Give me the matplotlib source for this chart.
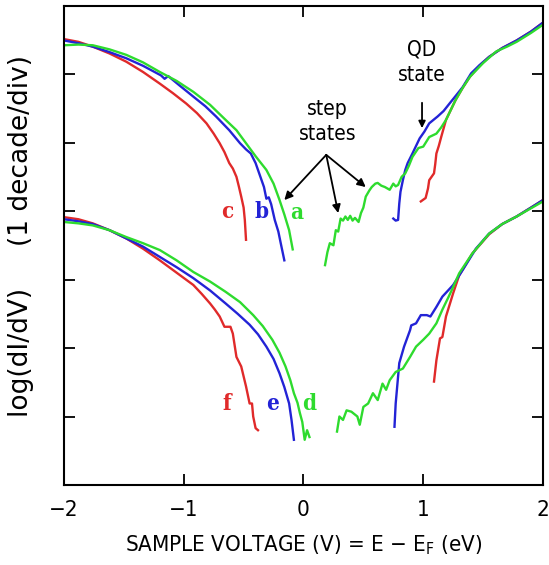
import matplotlib
matplotlib.use("Agg")
import matplotlib.pyplot as plt

# ---- data (x = sample voltage in V, y = decades) ----
# upper set: a (green), b (blue), c (red)
a_neg_x = [-2.0, -1.88, -1.76, -1.62, -1.48, -1.34, -1.20, -1.06, -0.92, -0.78, -0.65, -0.56, -0.48, -0.40, -0.31, -0.25, -0.20, -0.16, -0.12, -0.09]
a_neg_y = [6.42, 6.43, 6.42, 6.36, 6.28, 6.17, 6.03, 5.90, 5.74, 5.55, 5.33, 5.18, 4.99, 4.80, 4.60, 4.40, 4.16, 3.95, 3.72, 3.44]
a_pos_x = [0.18, 0.20, 0.22, 0.25, 0.27, 0.29, 0.31, 0.33, 0.35, 0.37, 0.39, 0.41, 0.43, 0.46, 0.48, 0.50, 0.52, 0.55, 0.57, 0.60, 0.62, 0.65, 0.68, 0.72, 0.75, 0.77, 0.79, 0.82, 0.85, 0.88, 0.91, 0.96, 1.00, 1.05, 1.11, 1.15, 1.19, 1.27, 1.33, 1.39, 1.50, 1.61, 1.70, 1.78, 1.90, 2.0]
a_pos_y = [3.21, 3.40, 3.53, 3.50, 3.72, 3.70, 3.89, 3.86, 3.92, 3.87, 3.93, 3.86, 3.90, 3.84, 3.97, 4.05, 4.21, 4.30, 4.35, 4.40, 4.41, 4.37, 4.35, 4.31, 4.40, 4.36, 4.38, 4.50, 4.55, 4.66, 4.79, 4.92, 4.94, 5.08, 5.13, 5.22, 5.33, 5.62, 5.80, 5.96, 6.16, 6.33, 6.40, 6.47, 6.60, 6.72]

b_neg_x = [-2.0, -1.88, -1.76, -1.62, -1.48, -1.34, -1.19, -1.16, -1.13, -1.04, -0.92, -0.82, -0.73, -0.62, -0.53, -0.48, -0.44, -0.40, -0.37, -0.33, -0.31, -0.29, -0.27, -0.24, -0.21, -0.19, -0.16]
b_neg_y = [6.49, 6.45, 6.40, 6.32, 6.23, 6.12, 5.98, 5.93, 5.97, 5.84, 5.67, 5.53, 5.38, 5.18, 4.99, 4.90, 4.84, 4.70, 4.55, 4.35, 4.18, 4.20, 4.10, 3.87, 3.70, 3.53, 3.28]
b_pos_x = [0.75, 0.77, 0.79, 0.80, 0.81, 0.83, 0.85, 0.87, 0.91, 0.97, 1.01, 1.05, 1.12, 1.17, 1.22, 1.28, 1.33, 1.40, 1.47, 1.55, 1.66, 1.78, 1.90, 2.0]
b_pos_y = [3.89, 3.86, 3.87, 4.11, 4.28, 4.45, 4.60, 4.70, 4.84, 5.06, 5.16, 5.28, 5.38, 5.46, 5.57, 5.70, 5.81, 6.01, 6.13, 6.25, 6.38, 6.49, 6.62, 6.75]

c_neg_x = [-2.0, -1.88, -1.76, -1.62, -1.48, -1.34, -1.20, -1.09, -0.98, -0.89, -0.81, -0.75, -0.70, -0.66, -0.62, -0.59, -0.56, -0.54, -0.52, -0.50, -0.49, -0.48]
c_neg_y = [6.51, 6.47, 6.40, 6.30, 6.18, 6.03, 5.86, 5.72, 5.57, 5.43, 5.28, 5.13, 4.99, 4.86, 4.70, 4.62, 4.50, 4.36, 4.21, 4.05, 3.87, 3.58]
c_pos_x = [0.98, 1.02, 1.04, 1.05, 1.09, 1.10, 1.11, 1.13, 1.15, 1.19, 1.27, 1.33, 1.39, 1.47, 1.55, 1.66, 1.78, 1.90, 2.0]
c_pos_y = [4.14, 4.19, 4.33, 4.45, 4.55, 4.68, 4.84, 4.95, 5.08, 5.33, 5.62, 5.80, 5.96, 6.12, 6.25, 6.38, 6.49, 6.62, 6.75]

# lower set: d (green), e (blue), f (red)
d_neg_x = [-2.0, -1.88, -1.76, -1.62, -1.48, -1.34, -1.20, -1.06, -0.92, -0.78, -0.65, -0.53, -0.42, -0.34, -0.26, -0.20, -0.15, -0.11, -0.08, -0.05, -0.03, -0.01, 0.01, 0.03, 0.05]
d_neg_y = [3.84, 3.82, 3.79, 3.72, 3.62, 3.53, 3.43, 3.28, 3.11, 2.97, 2.82, 2.67, 2.48, 2.32, 2.12, 1.93, 1.73, 1.53, 1.34, 1.20, 1.05, 0.92, 0.66, 0.80, 0.70]
d_pos_x = [0.28, 0.30, 0.33, 0.36, 0.40, 0.45, 0.47, 0.50, 0.54, 0.58, 0.62, 0.66, 0.69, 0.72, 0.77, 0.83, 0.89, 0.94, 1.00, 1.05, 1.11, 1.16, 1.21, 1.25, 1.30, 1.41, 1.55, 1.66, 1.78, 1.90, 2.0]
d_pos_y = [0.78, 1.00, 0.95, 1.09, 1.07, 1.00, 0.88, 1.14, 1.19, 1.34, 1.24, 1.48, 1.39, 1.53, 1.65, 1.70, 1.87, 2.02, 2.12, 2.21, 2.36, 2.56, 2.74, 2.89, 3.09, 3.38, 3.67, 3.81, 3.92, 4.04, 4.14]

e_neg_x = [-2.0, -1.88, -1.76, -1.62, -1.48, -1.34, -1.20, -1.06, -0.92, -0.78, -0.65, -0.55, -0.45, -0.38, -0.31, -0.25, -0.20, -0.16, -0.12, -0.10, -0.08]
e_neg_y = [3.88, 3.85, 3.81, 3.72, 3.60, 3.48, 3.33, 3.18, 3.02, 2.84, 2.65, 2.50, 2.34, 2.20, 2.02, 1.84, 1.63, 1.43, 1.19, 0.95, 0.66]
e_pos_x = [0.76, 0.77, 0.80, 0.84, 0.89, 0.90, 0.94, 0.98, 1.03, 1.06, 1.11, 1.16, 1.25, 1.33, 1.44, 1.55, 1.66, 1.78, 1.90, 2.0]
e_pos_y = [0.85, 1.19, 1.78, 2.02, 2.26, 2.33, 2.36, 2.48, 2.48, 2.46, 2.60, 2.75, 2.92, 3.14, 3.45, 3.67, 3.81, 3.92, 4.05, 4.16]

f_neg_x = [-2.0, -1.88, -1.76, -1.62, -1.48, -1.34, -1.20, -1.06, -0.92, -0.85, -0.78, -0.74, -0.70, -0.66, -0.61, -0.59, -0.56, -0.52, -0.48, -0.45, -0.43, -0.42, -0.40, -0.38]
f_neg_y = [3.91, 3.88, 3.82, 3.72, 3.60, 3.45, 3.28, 3.10, 2.92, 2.79, 2.65, 2.56, 2.46, 2.31, 2.31, 2.21, 1.87, 1.73, 1.44, 1.19, 1.19, 1.00, 0.83, 0.80]
f_pos_x = [1.09, 1.11, 1.14, 1.16, 1.19, 1.25, 1.30, 1.41, 1.55, 1.66, 1.78, 1.90, 2.0]
f_pos_y = [1.51, 1.82, 2.14, 2.16, 2.46, 2.80, 3.06, 3.38, 3.66, 3.81, 3.92, 4.05, 4.16]

curve_labels = ["a", "b", "c", "d", "e", "f"]
label_x = [-0.06, -0.35, -0.64, 0.05, -0.26, -0.64]
label_y = [3.97, 3.99, 3.99, 1.18, 1.18, 1.18]

RED = "#e02a2a"
BLUE = "#2323d6"
GREEN = "#2edb2e"

fig = plt.figure(figsize=(5.49, 5.65), dpi=100)
ax = fig.add_axes([0.1166, 0.1416, 0.8724, 0.8486])

lw = 1.7
for xs, ys, col in [(c_neg_x, c_neg_y, RED), (c_pos_x, c_pos_y, RED),
                    (b_neg_x, b_neg_y, BLUE), (b_pos_x, b_pos_y, BLUE),
                    (a_neg_x, a_neg_y, GREEN), (a_pos_x, a_pos_y, GREEN),
                    (f_neg_x, f_neg_y, RED), (f_pos_x, f_pos_y, RED),
                    (e_neg_x, e_neg_y, BLUE), (e_pos_x, e_pos_y, BLUE),
                    (d_neg_x, d_neg_y, GREEN), (d_pos_x, d_pos_y, GREEN)]:
    ax.plot(xs, ys, color=col, lw=lw)

label_cols = [GREEN, BLUE, RED, GREEN, BLUE, RED]
for t, x, y, col in zip(curve_labels, label_x, label_y, label_cols):
    ax.text(x, y, t, color=col, fontsize=16, fontweight="bold",
            family="DejaVu Serif", stretch="condensed", ha="center", va="center")

# annotations
ax.text(0.20, 5.31, "step\nstates", fontsize=15, stretch="condensed",
        ha="center", va="center", linespacing=1.3)
for tx, ty in [(-0.16, 4.16), (0.29, 3.97), (0.52, 4.35)]:
    ax.annotate("", xy=(tx, ty), xytext=(0.19, 4.82),
                arrowprops=dict(arrowstyle="-|>", color="black", lw=1.3,
                                mutation_scale=12, shrinkA=0, shrinkB=0))
ax.text(0.99, 6.17, "QD\nstate", fontsize=15, stretch="condensed",
        ha="center", va="center", linespacing=1.3)
ax.annotate("", xy=(0.99, 5.21), xytext=(0.99, 5.58),
            arrowprops=dict(arrowstyle="-|>", color="black", lw=1.3,
                            mutation_scale=10, shrinkA=0, shrinkB=0))

ax.set_xlim(-2, 2)
ax.set_ylim(0, 7)
ax.set_xticks([-2, -1, 0, 1, 2])
ax.set_xticklabels(["\u22122", "\u22121", "0", "1", "2"], fontsize=16, stretch="condensed")
ax.set_yticks([1, 2, 3, 4, 5, 6])
ax.set_yticklabels([])
ax.tick_params(direction="in", length=8, width=1.3, top=True, right=True, pad=11)
for s in ax.spines.values():
    s.set_linewidth(1.5)

ax.set_xlabel("SAMPLE VOLTAGE (V) = E \u2212 E$_{\\mathregular{F}}$ (eV)",
              fontsize=16, stretch="condensed")
ax.xaxis.set_label_coords(0.5, -0.10)
ax.set_ylabel("log(dI/dV)     (1 decade/div)", fontsize=19)
ax.yaxis.set_label_coords(-0.062, 0.52)

fig.savefig("out.png", dpi=100)
